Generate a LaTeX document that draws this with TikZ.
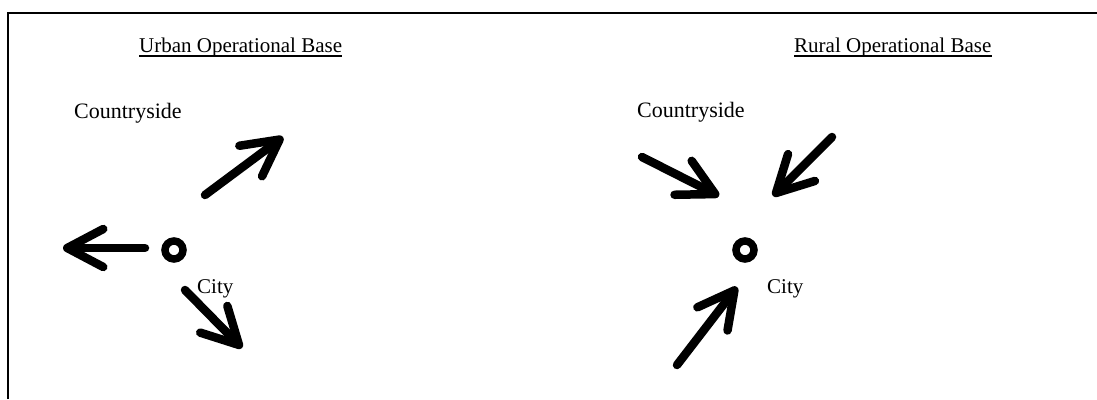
\documentclass[tikz,border=0pt]{standalone}
\usepackage{fontspec}
\setmainfont{Liberation Serif}
\usetikzlibrary{arrows.meta}
\tikzset{
  lbl/.style={anchor=base west, inner sep=0pt, font=\fontsize{21}{25}\selectfont},
  city/.style={circle, draw, line width=7.5pt, minimum size=18pt, inner sep=0pt},
  bigarrow/.style={line width=8.5pt, line cap=round,
    -{Straight Barb[length=36pt,width=38pt,round]}},
  frame/.style={line width=2.7pt},
  uline/.style={line width=1.3pt}
}
\begin{document}
\begin{tikzpicture}[x=1pt,y=1pt]
\useasboundingbox (0,0) rectangle (1097,-399);
% frame (top and left only)
\coordinate (fbl) at (8,-399);
\coordinate (ftl) at (8,-13);
\coordinate (ftr) at (1097,-13);
\draw[frame] (fbl) -- (ftl) -- (ftr);

% ---------- Urban panel ----------
\node[lbl] (t1) at (139,-52) {Urban Operational Base};
\draw[uline] ([yshift=-4pt]t1.base west) -- ([yshift=-4pt]t1.base east);
\node[lbl, font=\fontsize{22}{26}\selectfont] (c1) at (74,-118) {Countryside};
\node[city] (u) at (174,-250) {};
\node[lbl] (uc) at (197,-293) {City};
\coordinate (a1s) at (145,-248);
\coordinate (a1e) at (63,-248);
\coordinate (a2s) at (205,-195);
\coordinate (a2e) at (283,-137);
\coordinate (a3s) at (185,-290);
\coordinate (a3e) at (242,-348);
\draw[bigarrow] (a1s) -- (a1e);
\draw[bigarrow] (a2s) -- (a2e);
\draw[bigarrow] (a3s) -- (a3e);

% ---------- Rural panel ----------
\node[lbl] (t2) at (794,-52) {Rural Operational Base};
\draw[uline] ([yshift=-4pt]t2.base west) -- ([yshift=-4pt]t2.base east);
\node[lbl, font=\fontsize{22}{26}\selectfont] (c2) at (637,-117) {Countryside};
\node[city] (r) at (745,-250) {};
\node[lbl] (rc) at (767,-293) {City};
\coordinate (b1s) at (642,-157);
\coordinate (b1e) at (719,-196);
\coordinate (b2s) at (832,-137);
\coordinate (b2e) at (773,-196);
\coordinate (b3s) at (677,-365);
\coordinate (b3e) at (737,-287);
\draw[bigarrow] (b1s) -- (b1e);
\draw[bigarrow] (b2s) -- (b2e);
\draw[bigarrow] (b3s) -- (b3e);
\end{tikzpicture}
\end{document}
